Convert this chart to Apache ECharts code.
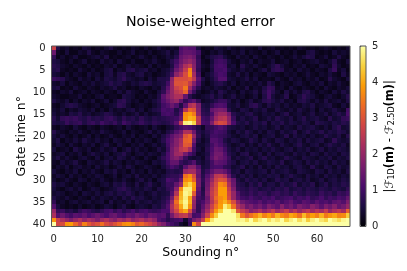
<!DOCTYPE html>
<html><head><meta charset="utf-8">
<style>html,body{margin:0;padding:0;background:#fff}#c{width:407px;height:271px}</style>
<script src="https://cdn.jsdelivr.net/npm/echarts@6/dist/echarts.min.js"></script>
</head><body><div id="c"></div>
<script>
const soundings=[0,1,2,3,4,5,6,7,8,9,10,11,12,13,14,15,16,17,18,19,20,21,22,23,24,25,26,27,28,29,30,31,32,33,34,35,36,37,38,39,40,41,42,43,44,45,46,47,48,49,50,51,52,53,54,55,56,57,58,59,60,61,62,63,64,65,66,67];
const gateTimes=[0,1,2,3,4,5,6,7,8,9,10,11,12,13,14,15,16,17,18,19,20,21,22,23,24,25,26,27,28,29,30,31,32,33,34,35,36,37,38,39,40];
const colorbarTicks=[0,1,2,3,4,5];
const infernoStops=['#000004','#1b0c41','#4a0c6b','#781c6d','#a52c60','#cf4446','#ed6925','#fb9b06','#f7d13d','#fcffa4'];
const errorRows=[
[2.7,.6,.3,.4,.2,.3,.2,.5,.4,.2, .3,.2,.4,.6,.3,.2,.3,.2,.4,.3, .2,.4,.2,.3,.5,.3,.2,.4,.3,1.1, 1.3,1.2,1.2,.5,.2,.3,.2,.5,.4,.3, .5,.3,.2,.4,.3,.3,.2,.5,.2,.3, .4,.2,.3,.2,.3,.2,.4,.3,.2,.3, .2,.3,.4,.3,.2,.3,.2,.4],
[1.5,.3,.2,.5,.2,.2,.4,.3,.6,.3, .2,.4,.3,.2,.2,.4,.2,.3,.5,.2, .3,.2,.4,.2,.3,.4,.6,.3,.5,1.2, 1.4,1.4,1.3,1.0,.3,.2,.4,.3,.5,.3, .2,.4,.3,.5,.2,.4,.3,.2,.4,.2, .3,.5,.2,.3,.2,.4,.2,.2,.5,.6, .3,.2,.3,.2,.5,.3,.4,.3],
[.8,.2,.4,.2,.3,.5,.2,.2,.3,.4, .5,.3,.6,.2,.3,.2,.3,.4,.2,.3, .5,.3,.2,.4,.2,.3,.5,.4,.7,1.4, 1.6,1.7,1.5,.8,.2,.4,.6,.7,.8,.5, .3,.2,.5,.3,.4,.2,.5,.3,.2,.4, .3,.2,.4,.2,.3,.5,.3,.5,.7,.6, .2,.3,.5,.2,.3,.6,.3,.2],
[.6,.5,.3,.2,.4,.2,.3,.5,.2,.3, .2,.5,.3,.4,.2,.5,.3,.2,.4,.2, .2,.4,.3,.5,.3,.2,.4,.7,1.0,1.5, 1.8,2.0,1.7,.9,.3,.2,.5,.9,1.0,.9, .5,.3,.2,.4,.3,.5,.2,.4,.3,.3, .5,.2,.3,.4,.2,.3,.4,.2,.3,.4, .5,.3,.2,.4,.7,.3,.2,.5],
[.7,.6,.4,.3,.2,.4,.3,.2,.4,.2, .3,.2,.4,.3,.5,.2,.3,.5,.3,.4, .3,.2,.5,.2,.4,.3,.3,.6,1.2,1.7, 2.3,2.6,1.8,.9,.4,.3,.6,1.0,1.1,1.0, .4,.5,.2,.7,.4,.3,.5,.3,.2,.4, .6,.8,.5,.3,.2,.4,.3,.5,.2,.3, .2,.5,.4,.3,.8,.4,.2,.3],
[.6,.7,.3,.2,.3,.2,.5,.3,.2,.4, .2,.3,.5,.6,.2,.4,.3,.6,.7,.4, .5,.6,.3,.4,.2,.4,.5,.8,1.5,1.9, 2.6,3.6,1.9,.8,.3,.2,.5,1.0,1.0,1.1, .6,.4,.3,.5,.3,.4,.2,.4,.6,.3, .7,.8,.7,.3,.4,.2,.5,.3,.4,.2, .4,.3,.2,.6,.9,.3,.5,.2],
[.5,.4,.2,.4,.2,.4,.3,.2,.5,.3, .4,.2,.5,.6,.3,.6,.7,.4,.3,.5, .6,.3,.4,.2,.3,.4,.6,1.0,1.9,2.3, 2.9,3.7,2.2,1.0,.2,.4,.6,.9,1.1,1.0, .4,.3,.6,.3,.5,.2,.4,.3,.2,.5, .4,.3,.2,.4,.3,.4,.2,.3,.5,.3, .2,.4,.3,.5,.3,.2,.6,.3],
[.9,.8,.7,.4,.3,.2,.5,.3,.4,.2, .5,.3,.6,.5,.4,.6,.8,.5,.4,.3, .4,.2,.5,.3,.6,.6,.7,1.9,2.9,2.9, 2.9,3.1,2.5,1.3,.6,.3,.5,.8,1.2,1.2, .5,.4,.3,.4,.6,.3,.5,.2,.3,.3, .2,.5,.3,.2,.5,.3,.4,.2,.4,.3, .5,.2,.3,.7,.4,.3,.2,.5],
[.4,.3,.5,.2,.4,.3,.2,.4,.3,.5, .3,.4,.5,.7,.5,.6,.4,.3,.5,.4, .6,.7,.6,.4,.5,.6,1.0,2.0,3.0,3.0, 3.1,2.6,1.8,1.1,.4,.2,.4,.6,.7,.5, .3,.5,.2,.4,.3,.4,.3,.5,.3,.7, .5,.2,.4,.3,.2,.4,.5,.3,.2,.4, .3,.5,.2,.4,.3,.5,.3,.2],
[.5,.6,.2,.3,.2,.5,.3,.2,.4,.3, .2,.4,.3,.4,.6,.3,.4,.2,.3,.2, .4,.3,.2,.4,.3,.7,1.3,2.0,2.7,2.9, 3.5,2.1,1.3,.7,.3,.4,.3,.5,.4,.3, .5,.2,.4,.3,.6,.2,.4,.3,.6,.9, .8,.3,.4,.2,.5,.3,.2,.4,.3,.2, .4,.2,.5,.3,.2,.4,.3,.5],
[.3,.2,.4,.3,.5,.2,.3,.4,.2,.4, .3,.2,.4,.3,.2,.5,.3,.6,.4,.3, .2,.5,.3,.2,.5,.8,1.5,2.0,2.5,2.7, 3.2,1.6,.9,.4,.2,.3,.5,.3,.7,.5, .3,.4,.2,.5,.3,.4,.6,.3,.7,1.0, .7,.4,.2,.6,.3,.5,.3,.6,.7,.4, .2,.4,.3,.2,.5,.3,.6,.4],
[.4,.3,.2,.2,.3,.3,.5,.2,.3,.2, .4,.5,.2,.3,.3,.2,.6,.5,.4,.2, .3,.2,.4,.3,.6,1.3,1.7,2.0,2.3,2.3, 1.4,.7,.4,.3,.4,.5,.7,.4,.6,.3, .4,.6,.3,.4,.2,.3,.5,.2,.6,1.0, .5,.3,.4,.7,.2,.3,.5,.8,.6,.5, .3,.2,.4,.5,.3,.2,.4,.7],
[.6,.4,.3,.5,.2,.4,.2,.4,.3,.5, .2,.3,.5,.2,.4,.7,.8,.5,.3,.4, .2,.4,.3,.5,.7,1.2,1.5,1.8,2.0,1.4, .8,1.1,1.3,.8,.3,.4,.5,.7,.9,.9, .6,.3,.5,.2,.4,.6,.3,.4,.7,.8, .6,.4,.6,.3,.4,.2,.6,.7,.5,.3, .5,.3,.6,.3,.4,.5,.3,.6],
[.3,.2,.4,.6,.7,.6,.4,.3,.2,.3, .4,.2,.3,.4,.5,.8,.7,.4,.2,.3, .4,.3,.2,.4,.6,1.0,1.2,1.5,1.2,.6, 1.3,2.3,2.5,1.7,.6,.5,.8,1.1,1.2,1.1, .5,.4,.6,.3,.4,.7,.8,.5,.3,.6, .4,.5,.3,.5,.3,.4,.3,.5,.4,.6, .3,.4,.5,.6,.3,.2,.5,.3],
[.4,.3,.5,.2,.4,.3,.5,.4,.3,.5, .2,.4,.2,.5,.3,.4,.3,.5,.6,.3, .5,.2,.4,.6,.7,1.1,1.0,1.1,.6,1.0, 2.4,3.2,3.0,1.8,.7,.6,1.4,1.6,1.7,1.6, .7,.4,.3,.6,.5,.3,.5,.4,.6,.3, .3,.6,.4,.3,.5,.3,.6,.4,.3,.5, .2,.5,.3,.4,.6,.4,.3,1.0],
[.5,.3,.4,.3,.6,.5,.7,.4,.5,.3, .4,.5,.7,.6,.4,.3,.5,.3,.4,.6, .3,.5,.3,.4,.5,1.0,1.1,1.0,.7,1.2, 3.7,3.9,3.5,1.9,.8,.7,1.1,1.8,2.1,2.1, 1.6,.7,.5,.4,.6,.7,.4,.3,.5,.4, .5,.3,.5,.7,.3,.4,.5,.3,.4,.6, .3,.4,.6,.3,.5,.7,.5,1.1],
[.7,.4,.8,.9,.8,.9,.7,.6,.8,.6, .7,.6,.8,.9,.7,.5,.8,.6,.7,.5, .8,.6,.5,.7,.6,.7,.8,.9,1.0,1.4, 3.8,4.1,4.0,2.5,1.0,.9,1.4,2.1,2.4,2.5, 1.9,.9,.4,.6,.4,.5,.7,.3,.4,.6, .4,.7,.5,.4,.6,.3,.5,.7,.4,.5, .6,.4,.3,.7,.4,.5,.8,.9],
[.6,.5,.6,.9,.7,.8,.9,.6,.8,.9, .7,1.0,.8,.7,.9,.6,1.0,.8,.6,.7, .9,.7,.6,.8,.7,.6,.7,.9,1.3,2.5, 4.8,4.9,4.5,2.5,1.1,1.0,1.7,2.6,2.9,2.8, 2.0,1.1,.6,.5,.7,.4,.6,.5,.7,.3, .6,.5,.7,.4,.6,.5,.4,.6,.5,.3, .7,.6,.5,.4,.6,.5,.7,.6],
[.3,.2,.4,.3,.2,.5,.3,.2,.4,.3, .2,.4,.3,.2,.3,.4,.2,.5,.3,.2, .3,.4,.2,.5,.3,.2,.4,.5,.8,1.0, 1.2,1.1,.9,.6,.3,.8,.8,1.0,1.2,1.0, .6,.5,.4,.5,.3,.4,.6,.4,.5,.3, .4,.6,.3,.5,.4,.3,.6,.4,.5,.6, .4,.3,.5,.3,.6,.8,.4,.5],
[.7,.4,.3,.2,.4,.3,.5,.3,.2,.4, .3,.6,.4,.3,.2,.3,.5,.2,.4,.3, .2,.4,.6,.3,.5,.3,.6,.8,1.2,1.5, 2.3,2.3,1.5,.7,.5,.7,.9,1.1,1.0,.9, .5,.3,.6,.4,.7,.5,.3,.5,.3,.6, .5,.3,.6,.4,.5,.7,.3,.5,.7,.4, .5,.7,.4,.6,.5,.7,.6,.4],
[.5,.3,.5,.3,.2,.4,.2,.3,.5,.2, .4,.2,.3,.5,.3,.2,.4,.3,.5,.2, .4,.3,.2,.5,.3,.6,.9,1.3,1.6,1.8, 3.0,3.3,2.0,.8,.4,.6,1.0,1.0,.9,.8, .6,.4,.3,.5,.6,.4,.6,.2,.4,.5, .6,.3,.4,.7,.3,.6,.4,.5,.3,.5, .3,.4,.7,.5,.4,.6,.3,.7],
[.4,.6,.2,.4,.3,.5,.3,.6,.4,.3, .5,.3,.4,.2,.5,.4,.3,.5,.2,.4, .3,.5,.4,.2,.4,.7,1.1,1.4,1.8,2.2, 3.2,3.3,1.6,.6,.3,.5,1.2,1.2,1.0,.6, .4,.6,.5,.3,.4,.7,.5,.3,.6,.4, .3,.6,.5,.3,.5,.4,.6,.3,.6,.4, .5,.6,.3,.4,.8,.5,.4,.5],
[.3,.5,.4,.2,.5,.3,.2,.4,.3,.5, .2,.4,.6,.3,.2,.5,.3,.2,.4,.3, .5,.2,.3,.5,.3,.5,1.0,1.5,1.8,2.3, 3.1,3.0,1.2,.4,.4,.6,1.0,1.3,1.1,.8, .5,.3,.4,.6,.3,.5,.3,.6,.4,.7, .4,.3,.6,.4,.3,.5,.7,.4,.3,.5, .6,.3,.5,.7,.5,.4,.6,.3],
[.5,.2,.3,.4,.2,.6,.4,.3,.5,.2, .3,.5,.3,.4,.6,.2,.4,.6,.3,.5, .3,.4,.2,.3,.6,.4,.9,1.6,2.0,2.5, 2.7,2.2,1.0,.5,.3,.7,1.1,1.5,1.4,1.0, .6,.4,.6,.3,.5,.4,.5,.3,.5,.4, .6,.4,.3,.5,.6,.3,.5,.4,.6,.3, .4,.6,.3,.5,.4,.6,.5,.4],
[.3,.4,.5,.2,.4,.3,.5,.2,.4,.6, .4,.3,.5,.2,.4,.5,.7,.4,.2,.4, .5,.3,.5,.4,.3,.6,1.1,1.6,2.1,2.2, 1.6,1.1,.8,.3,.4,.6,1.2,1.6,1.6,1.2, .7,.5,.3,.6,.7,.3,.4,.6,.3,.6, .3,.5,.6,.4,.3,.6,.4,.5,.3,.6, .5,.3,.6,.4,.5,.3,.6,.5],
[.4,.6,.3,.5,.3,.2,.4,.5,.3,.2, .5,.2,.4,.5,.3,.6,.5,.3,.5,.3, .2,.5,.3,.2,.5,.8,1.1,1.6,1.8,1.5, .9,.5,.4,.5,.3,.7,1.3,1.7,1.5,1.3, .9,.4,.6,.4,.5,.7,.3,.5,.7,.4, .5,.3,.4,.7,.5,.4,.3,.6,.5,.4, .3,.5,.4,.6,.3,.5,.4,.6],
[.3,.2,.5,.3,.4,.6,.3,.2,.5,.4, .3,.4,.6,.3,.5,.4,.2,.4,.3,.5, .4,.3,.2,.5,.4,.6,1.0,1.4,1.4,.9, .7,.9,1.2,.6,.4,.6,1.0,1.4,1.3,1.2, .8,.6,.3,.5,.6,.4,.6,.3,.4,.6, .5,.4,.7,.3,.4,.6,.5,.3,.6,.4, .6,.4,.5,.3,.6,.4,.5,.3],
[.2,.4,.3,.5,.2,.4,.5,.3,.4,.2, .5,.3,.4,.2,.3,.5,.3,.6,.4,.2, .3,.5,.4,.3,.2,.5,.8,1.1,.9,.6, 1.3,1.8,1.8,1.2,.5,.6,1.0,1.1,1.1,.8, .7,.4,.5,.7,.3,.5,.3,.6,.3,.5, .3,.6,.4,.5,.3,.5,.6,.4,.3,.7, .4,.3,.6,.5,.3,.6,.4,.5],
[.5,.3,.2,.4,.3,.5,.2,.4,.3,.5, .3,.2,.5,.4,.6,.3,.4,.2,.5,.3, .4,.2,.5,.3,.4,.3,.6,.7,.6,.7, 2.0,2.2,2.2,1.5,.6,.9,1.3,1.6,1.6,1.4, 1.0,.5,.6,.3,.6,.5,.4,.5,.6,.3, .6,.4,.5,.6,.4,.3,.6,.5,.4,.3, .6,.5,.3,.6,.4,.5,.3,.6],
[.3,.5,.4,.2,.5,.3,.4,.2,.4,.3, .5,.4,.2,.3,.5,.2,.4,.5,.3,.6, .3,.4,.3,.5,.3,.5,.7,.8,.8,1.0, 3.4,3.7,2.9,1.4,.7,1.2,1.7,2.5,2.6,2.3, 1.4,.7,.4,.6,.4,.6,.3,.5,.4,.6, .5,.6,.3,.5,.7,.5,.4,.3,.6,.4, .5,.3,.6,.4,.5,.3,.5,.4],
[.4,.2,.3,.5,.3,.2,.5,.4,.2,.4, .3,.5,.3,.2,.4,.3,.5,.3,.2,.4, .6,.3,.5,.2,.5,.6,1.1,1.0,.9,1.5, 3.7,3.9,3.2,1.6,.8,1.4,2.0,2.7,3.0,2.9, 2.0,1.4,.6,.4,.7,.5,.6,.4,.6,.3, .4,.7,.5,.6,.3,.5,.6,.4,.6,.3, .4,.6,.3,.5,.6,.4,.6,.5],
[.6,.4,.5,.3,.2,.4,.3,.2,.4,.3, .2,.4,.5,.3,.6,.5,.7,.4,.3,.6, .3,.5,.7,.4,.3,.6,.9,.9,1.4,2.0, 4.1,4.5,3.9,1.6,.7,1.5,2.3,2.9,3.7,3.5, 2.3,1.5,.7,.6,.4,.7,.5,.8,.4,.6, .6,.4,.7,.5,.6,.8,.4,.6,.5,.7, .3,.5,.7,.4,.6,.5,.7,.6],
[.5,.3,.2,.4,.5,.3,.5,.2,.3,.5, .4,.2,.3,.4,.5,.7,.8,.6,.4,.5, .4,.6,.5,.3,.6,.5,.8,1.0,1.9,3.7, 4.8,4.8,3.8,1.4,.6,1.6,2.5,3.0,3.9,3.9, 2.6,1.7,.8,.7,.6,.8,.7,.5,.6,.7, .5,.7,.6,.8,.5,.6,.7,.5,.7,.6, .5,.7,.6,.5,.7,.6,.5,.8],
[.4,.5,.4,.2,.3,.4,.2,.5,.4,.3, .5,.3,.5,.6,.4,.6,.5,.7,.5,.3, .5,.3,.4,.6,.4,.5,.6,1.2,2.4,4.1, 4.9,4.7,3.1,1.2,.7,1.7,2.6,3.1,3.9,3.9, 2.8,2.0,1.2,.8,.7,.9,.7,.9,.8,.6, .8,.9,.7,.8,.6,.9,.7,.6,.8,.7, .6,.9,.7,.8,.6,.9,.8,1.0],
[.6,.4,.3,.5,.3,.2,.4,.3,.2,.5, .3,.5,.4,.3,.5,.3,.6,.4,.7,.5, .6,.4,.3,.5,.4,.6,.8,1.6,3.0,4.2, 4.8,4.0,2.2,1.0,.8,1.5,2.5,3.3,3.7,3.9, 2.9,2.0,1.3,1.0,.9,1.1,.9,.8,1.0,.9, 1.1,.8,.9,1.0,1.1,.8,1.0,.9,1.1,.8, .9,1.1,.8,1.0,.9,1.1,1.0,1.4],
[.8,.3,.4,.2,.4,.5,.3,.4,.5,.3, .4,.5,.2,.6,.3,.4,.3,.5,.3,.6, .4,.5,.6,.4,.5,.7,1.0,2.0,3.4,4.4, 4.9,4.1,2.0,.9,1.1,1.6,2.4,3.1,3.8,4.1, 3.6,2.9,2.0,1.5,1.3,1.2,1.1,1.3,1.0,1.2, 1.1,1.3,1.0,1.2,1.4,1.1,1.0,1.3,1.2,1.0, 1.3,1.1,1.2,1.0,1.3,1.4,1.2,1.7],
[1.2,.5,.3,.2,.3,.2,.4,.2,.3,.4, .2,.3,.5,.4,.2,.4,.6,.3,.2,.4, .5,.4,.3,.6,.5,.8,1.2,2.3,3.1,4.0, 4.8,3.8,1.9,.8,1.3,1.9,2.7,3.4,3.9,4.8, 4.4,3.4,2.4,2.0,1.5,1.7,1.4,1.6,1.3,1.7, 1.5,1.3,1.8,1.4,1.6,1.3,1.7,1.5,1.4,1.8, 1.6,1.3,1.7,1.5,1.8,1.4,1.6,2.0],
[2.0,.8,.9,.6,.7,.5,.8,1.0,.9,.7, .6,.8,1.0,1.1,.8,1.0,.7,.9,1.1,.8, 1.0,1.1,.9,.8,.9,1.1,1.1,2.2,2.8,3.6, 4.0,2.9,1.5,.8,1.5,2.2,3.0,3.8,4.4,5.0, 5.0,4.7,3.0,2.6,2.3,1.8,2.0,2.3,1.9,2.2, 2.5,2.0,2.3,2.6,2.1,2.4,2.0,2.3,2.5,2.1, 2.4,2.2,2.6,2.0,2.3,2.5,2.2,3.2],
[2.3,1.2,1.5,1.2,1.0,1.3,1.2,1.4,1.1,1.3, 1.5,1.3,1.1,1.4,1.5,1.2,1.1,1.4,1.3,1.6, 1.4,1.2,1.5,1.4,1.2,1.3,.8,1.6,2.2,2.5, 2.6,2.0,1.0,1.1,1.8,2.7,3.7,4.4,5.0,5.0, 5.0,5.0,4.6,3.5,3.0,3.4,3.7,4.1,3.6,3.9, 3.5,4.1,3.7,3.5,4.0,3.8,3.4,4.2,3.6,3.9, 3.6,4.1,3.5,3.8,4.0,3.6,3.7,4.4],
[3.8,2.7,2.3,2.0,1.7,2.0,2.3,1.9,2.2,2.0, 1.7,2.1,2.3,2.0,1.8,2.2,2.0,2.3,1.9,2.1, 2.3,2.0,2.2,1.9,1.2,1.0,.7,.9,1.0,1.1, .4,1.0,1.6,1.9,2.6,3.9,4.7,5.0,5.0,5.0, 5.0,5.0,4.8,4.9,4.6,5.0,4.5,4.8,5.0,4.6, 4.9,4.7,5.0,4.5,4.8,5.0,4.6,4.9,4.4,4.8, 5.0,4.7,4.5,5.0,4.8,4.6,4.9,5.0],
[5.0,2.8,2.9,3.8,3.9,3.3,2.8,3.6,3.1,2.8, 3.0,3.4,2.9,2.7,3.0,3.3,3.7,3.8,3.6,3.1, 3.3,3.0,2.8,2.5,2.0,1.7,1.2,1.0,.8,.4, .2,.9,3.7,2.8,5.0,5.0,5.0,5.0,5.0,5.0, 5.0,5.0,5.0,5.0,5.0,5.0,5.0,5.0,5.0,5.0, 5.0,5.0,5.0,5.0,5.0,5.0,5.0,5.0,5.0,5.0, 5.0,5.0,5.0,5.0,5.0,5.0,5.0,5.0]
];
const cells=[];
errorRows.forEach((row,r)=>row.forEach((v,c)=>cells.push([c,r,v])));
const ff='"DejaVu Sans"';
const tick={fontFamily:ff,fontSize:10,color:'#262626'};
const lbl={length:3.5,lineStyle:{color:'#333',width:1}};
const chart=echarts.init(document.getElementById('c'),null,{renderer:'canvas'});
chart.setOption({
 animation:false,backgroundColor:'#fff',
 title:{text:'Noise-weighted error',left:121,top:10,textStyle:{fontFamily:ff,fontSize:14.2,fontWeight:'normal',color:'#000'}},
 grid:[
  {left:51.5,top:46,width:298.5,height:180.5,show:true,z:5,backgroundColor:'transparent',borderColor:'#555',borderWidth:1},
  {left:360,top:46,width:6,height:180.5,show:true,z:5,backgroundColor:'transparent',borderColor:'#555',borderWidth:1}
 ],
 xAxis:[
  {type:'category',gridIndex:0,data:soundings,position:'bottom',name:'Sounding n°',nameLocation:'middle',nameGap:20,nameMoveOverlap:false,nameTextStyle:{fontFamily:ff,fontSize:12.5,color:'#000'},
   axisLabel:Object.assign({interval:9,margin:8},tick),axisTick:Object.assign({alignWithLabel:true,interval:9},lbl),axisLine:{show:false},splitLine:{show:false}},
  {type:'value',gridIndex:1,min:0,max:1,show:false}
 ],
 yAxis:[
  {type:'category',gridIndex:0,data:gateTimes,inverse:true,name:'Gate time n°',nameLocation:'middle',nameGap:23,nameMoveOverlap:false,nameRotate:90,nameTextStyle:{fontFamily:ff,fontSize:12.5,color:'#000'},
   axisLabel:Object.assign({interval:4,margin:6},tick),axisTick:Object.assign({alignWithLabel:true,interval:4},lbl),axisLine:{show:false},splitLine:{show:false}},
  {type:'value',gridIndex:1,position:'right',min:colorbarTicks[0],max:colorbarTicks[colorbarTicks.length-1],interval:1,
   name:'{a||ℱ}{s|1D}{b|(m)}{a| - ℱ}{s|2.5D}{b|(m)}{a||}',nameLocation:'middle',nameGap:18,nameMoveOverlap:false,nameRotate:90,
   nameTextStyle:{fontFamily:ff,fontSize:11.5,color:'#000',rich:{
     a:{fontFamily:ff,fontSize:11.5,fontStyle:'italic',color:'#000'},
     b:{fontFamily:ff,fontSize:11.5,fontWeight:'bold',color:'#000'},
     s:{fontFamily:ff,fontSize:8,color:'#000',verticalAlign:'bottom'}}},
   axisLabel:Object.assign({margin:6},tick),axisTick:lbl,axisLine:{show:false},splitLine:{show:false}}
 ],
 visualMap:{type:'continuous',seriesIndex:0,dimension:2,min:0,max:5,left:360,top:46,itemWidth:6,itemHeight:180.5,padding:0,calculable:false,text:['',''],showLabel:false,inRange:{color:infernoStops},textStyle:{fontSize:0}},
 series:[{type:'custom',xAxisIndex:0,yAxisIndex:0,data:cells,encode:{x:0,y:1},silent:true,clip:true,
  renderItem:(params,api)=>{
   const p=api.coord([api.value(0),api.value(1)]);
   const s=api.size([1,1]);
   const x0=Math.round(p[0]-s[0]/2),x1=Math.round(p[0]+s[0]/2);
   const y0=Math.round(p[1]-s[1]/2),y1=Math.round(p[1]+s[1]/2);
   return {type:'rect',shape:{x:x0,y:y0,width:x1-x0,height:y1-y0},style:{fill:api.visual('color'),stroke:null,lineWidth:0}};
  }}]
});
</script></body></html>
